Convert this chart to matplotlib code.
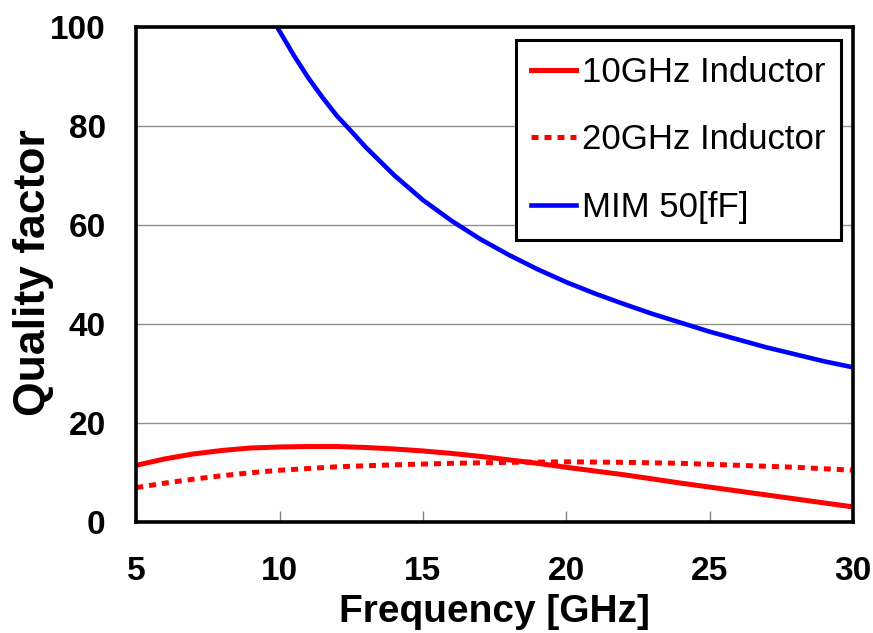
import matplotlib
matplotlib.use('Agg')
import matplotlib.pyplot as plt

plt.rcParams['font.family'] = ['Liberation Sans', 'DejaVu Sans']

# frequency [GHz] and quality factor
freq_10g = [5, 6, 7, 8, 9, 10, 11, 12, 13, 14, 15, 16, 17, 18, 19, 20, 22, 24, 26, 28, 30]
q_10g = [11.5, 12.8, 13.8, 14.5, 15.0, 15.2, 15.3, 15.3, 15.1, 14.8, 14.4, 13.9, 13.3, 12.6, 11.9, 11.1, 9.6, 7.9, 6.3, 4.7, 3.1]

freq_20g = [5, 6, 7, 8, 9, 10, 12, 14, 16, 18, 20, 22, 24, 26, 28, 30]
q_20g = [7.0, 7.9, 8.7, 9.4, 10.0, 10.5, 11.2, 11.6, 11.9, 12.1, 12.2, 12.1, 11.9, 11.5, 11.1, 10.5]

freq_mim = [9.92, 10, 10.5, 11, 11.5, 12, 12.5, 13, 14, 15, 16, 17, 18, 19, 20,
            21, 22, 23, 24, 25, 26, 27, 28, 29, 30]
q_mim = [100, 99.2, 94.3, 89.8, 85.8, 82.1, 79.0, 75.8, 70.1, 65.1, 60.9, 57.2, 54.0, 51.1, 48.5,
         46.2, 44.1, 42.1, 40.3, 38.5, 36.9, 35.3, 33.9, 32.5, 31.3]

fig = plt.figure(figsize=(8.73, 6.33), dpi=100)
ax = fig.add_axes([0.156, 0.175, 0.821, 0.782])

ax.plot(freq_10g, q_10g, color='#ff0000', lw=3.6, label='10GHz Inductor')
ax.plot(freq_20g, q_20g, color='#ff0000', lw=3.6, linestyle=(0, (1.4, 1.2)), dash_capstyle='butt',
        label='20GHz Inductor')
ax.plot(freq_mim, q_mim, color='#0000ff', lw=3.3, label='MIM 50[fF]')

ax.set_xlim(5, 30)
ax.set_ylim(0, 100)
ax.set_xticks([5, 10, 15, 20, 25, 30])
ax.set_yticks([0, 20, 40, 60, 80, 100])
ax.yaxis.grid(True, color='#909090', lw=1.0)
ax.set_axisbelow(True)
ax.tick_params(axis='x', direction='in', length=8, width=1, color='#808080', pad=24, labelsize=24)
ax.tick_params(axis='y', direction='in', length=0, pad=22, labelsize=24)
for t in ax.get_xticklabels() + ax.get_yticklabels():
    t.set_fontweight('bold')
for s in ax.spines.values():
    s.set_linewidth(2.6)

ax.set_xlabel('Frequency [GHz]', fontsize=28, fontweight='bold')
ax.set_ylabel('Quality factor', fontsize=32, fontweight='bold')
ax.xaxis.set_label_coords(0.50, -0.145)
ax.yaxis.set_label_coords(-0.115, 0.505)

leg = ax.legend(loc='upper right', bbox_to_anchor=(0.983, 0.974), borderaxespad=0,
                fontsize=25, handlelength=1.3, handletextpad=0.15, labelspacing=1.0,
                fancybox=False, framealpha=1, edgecolor='black', borderpad=0.45)
leg.get_frame().set_linewidth(2.2)

fig.savefig('out.png', dpi=100)
